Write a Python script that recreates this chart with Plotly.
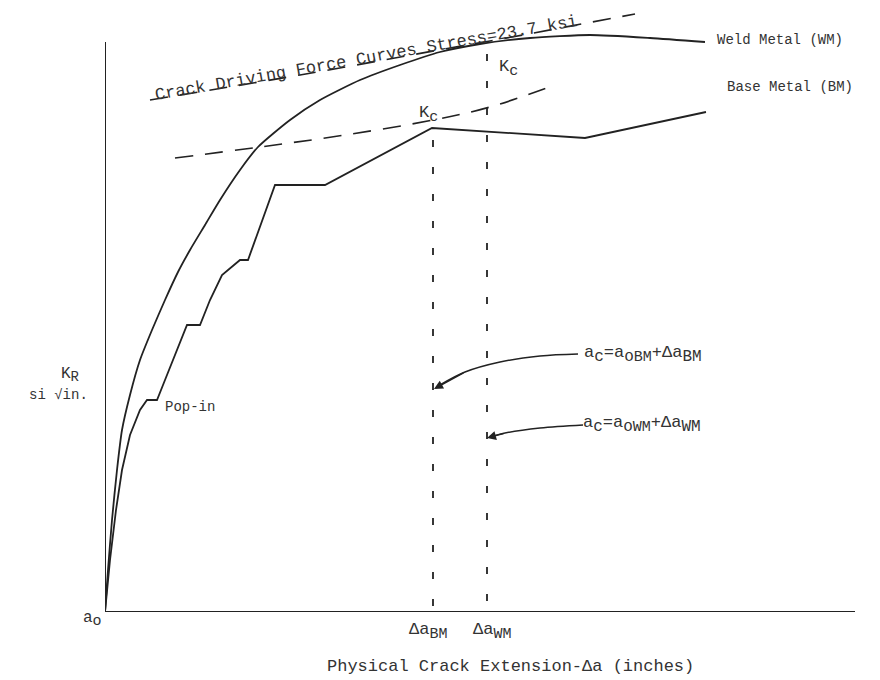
import plotly.graph_objects as go

# ---- data (schematic units: x = crack extension, y = K_R) ----
wm_x = [0, 3, 7, 12, 17, 25, 35, 47, 60, 73, 85, 100, 115, 135, 153, 185, 215, 255, 295, 335, 375, 425, 485, 545, 600]
wm_y = [0, 42, 92, 142, 182, 217, 252, 282, 312, 340, 362, 387, 412, 442, 465, 492, 512, 532, 547, 560, 568, 574, 577, 574, 570]

bm_x = [0, 5, 11, 17, 25, 35, 42, 52, 60, 70, 82, 95, 105, 117, 135, 143, 157, 170, 220, 327, 480, 601]
bm_y = [0, 52, 102, 142, 177, 202, 212, 212, 232, 257, 287, 287, 312, 337, 352, 352, 390, 427, 427, 484, 474, 500]

cdf_wm_x = [45, 195, 345, 385, 530]
cdf_wm_y = [512, 537, 564, 571, 598]

cdf_bm_x = [70, 155, 240, 328, 385, 450]
cdf_bm_y = [454, 465, 477, 492, 505, 527]

da_bm = 328     # critical crack extension, base metal
da_wm = 382     # critical crack extension, weld metal
kc_bm = 484
kc_wm = 560

arrow_bm_x = [473, 435, 395, 360, 335]
arrow_bm_y = [258, 256, 250, 240, 227]
arrow_wm_x = [478, 435, 400, 385]
arrow_wm_y = [187, 184, 179, 175]

X_MAX, Y_MAX = 750, 600
Y_AXIS_TOP = 570

LINE = "#222222"
TXT = "#333333"
FONT = "Liberation Mono"

fig = go.Figure()

fig.add_trace(go.Scatter(x=wm_x, y=wm_y, mode="lines", line=dict(color=LINE, width=1.8, shape="spline", smoothing=0.6)))
fig.add_trace(go.Scatter(x=bm_x, y=bm_y, mode="lines", line=dict(color=LINE, width=1.8)))
fig.add_trace(go.Scatter(x=cdf_wm_x, y=cdf_wm_y, mode="lines", line=dict(color=LINE, width=1.6, dash="18px,12px", shape="spline")))
fig.add_trace(go.Scatter(x=cdf_bm_x, y=cdf_bm_y, mode="lines", line=dict(color=LINE, width=1.6, dash="18px,12px", shape="spline")))

fig.add_trace(go.Scatter(x=[da_bm, da_bm], y=[kc_bm - 12, 4], mode="lines", line=dict(color=LINE, width=1.8, dash="7px,20px")))
fig.add_trace(go.Scatter(x=[da_wm, da_wm], y=[kc_wm - 2, 6], mode="lines", line=dict(color=LINE, width=1.8, dash="7px,20px")))

fig.add_trace(go.Scatter(x=arrow_bm_x, y=arrow_bm_y, mode="lines", line=dict(color=LINE, width=1.5, shape="spline")))
fig.add_trace(go.Scatter(x=arrow_wm_x, y=arrow_wm_y, mode="lines", line=dict(color=LINE, width=1.5, shape="spline")))

# axes lines
fig.add_shape(type="line", x0=0, x1=0, y0=0, y1=Y_AXIS_TOP, xref="x", yref="y", line=dict(color=LINE, width=2))
fig.add_shape(type="line", x0=0, x1=X_MAX, y0=0, y1=0, xref="x", yref="y", line=dict(color=LINE, width=2))

# arrowheads
for ax_, ay_, x_, y_ in [(arrow_bm_x[-2], arrow_bm_y[-2], arrow_bm_x[-1] - 6, arrow_bm_y[-1] - 4),
                         (arrow_wm_x[-2], arrow_wm_y[-2], arrow_wm_x[-1] - 3, arrow_wm_y[-1] - 1)]:
    fig.add_annotation(x=x_, y=y_, ax=ax_, ay=ay_, xref="x", yref="y", axref="x", ayref="y",
                       showarrow=True, arrowhead=2, arrowsize=1.2, arrowwidth=1.5, arrowcolor=LINE, text="")

L, T = 97, 4
def px2paper(px, py):
    return (px - 105) / 750, (612 - py) / 600

def label(px, py, text, size=14, xanchor="center", angle=0):
    x, y = px2paper(px, py)
    fig.add_annotation(x=x, y=y, xref="paper", yref="paper", text=text, showarrow=False,
                       xanchor=xanchor, yanchor="middle", textangle=angle,
                       font=dict(family=FONT, size=size, color=TXT))

def s(t, size):
    return "<span style='font-size:%dpx'>%s</span>" % (size, t)

def ac_label(m):
    return ("a<sub>" + s("c", 16) + "</sub>=a<sub>" + s("o", 16) + "</sub><sub>" + s(m, 15) + "</sub>"
            + "+Δa<sub>" + s(m, 16) + "</sub>")

label(366, 58, "Crack Driving Force Curves Stress=23.7 ksi", size=17, angle=-10)
label(715, 40, "Weld Metal (WM)", xanchor="left")
label(725, 87, "Base Metal (BM)", xanchor="left")
label(428, 114, "K<sub>" + s("c", 15) + "</sub>", size=17)
label(497, 68, "K<sub>" + s("c", 15) + "</sub>", size=17, xanchor="left")
label(163, 407, "Pop-in", xanchor="left")
label(582, 354, ac_label("BM"), size=17, xanchor="left")
label(581, 424, ac_label("WM"), size=17, xanchor="left")
label(92, 619, "a<sub>" + s("o", 15) + "</sub>", size=16)
label(428, 631, "Δa<sub>" + s("BM", 15) + "</sub>", size=17)
label(492, 631, "Δa<sub>" + s("WM", 15) + "</sub>", size=17)
label(70, 375, "K<sub>" + s("R", 14) + "</sub>", size=16)
label(58, 395, "si √in.")
label(510, 666, "Physical Crack Extension-Δa (inches)", size=17)

fig.update_layout(
    width=880, height=680,
    margin=dict(l=L, r=880 - L - 750, t=T, b=680 - T - 600),
    paper_bgcolor="white", plot_bgcolor="white",
    showlegend=False,
    xaxis=dict(range=[0, X_MAX], visible=False, fixedrange=True),
    yaxis=dict(range=[0, Y_MAX], visible=False, fixedrange=True),
)

fig.write_html("out.html")
